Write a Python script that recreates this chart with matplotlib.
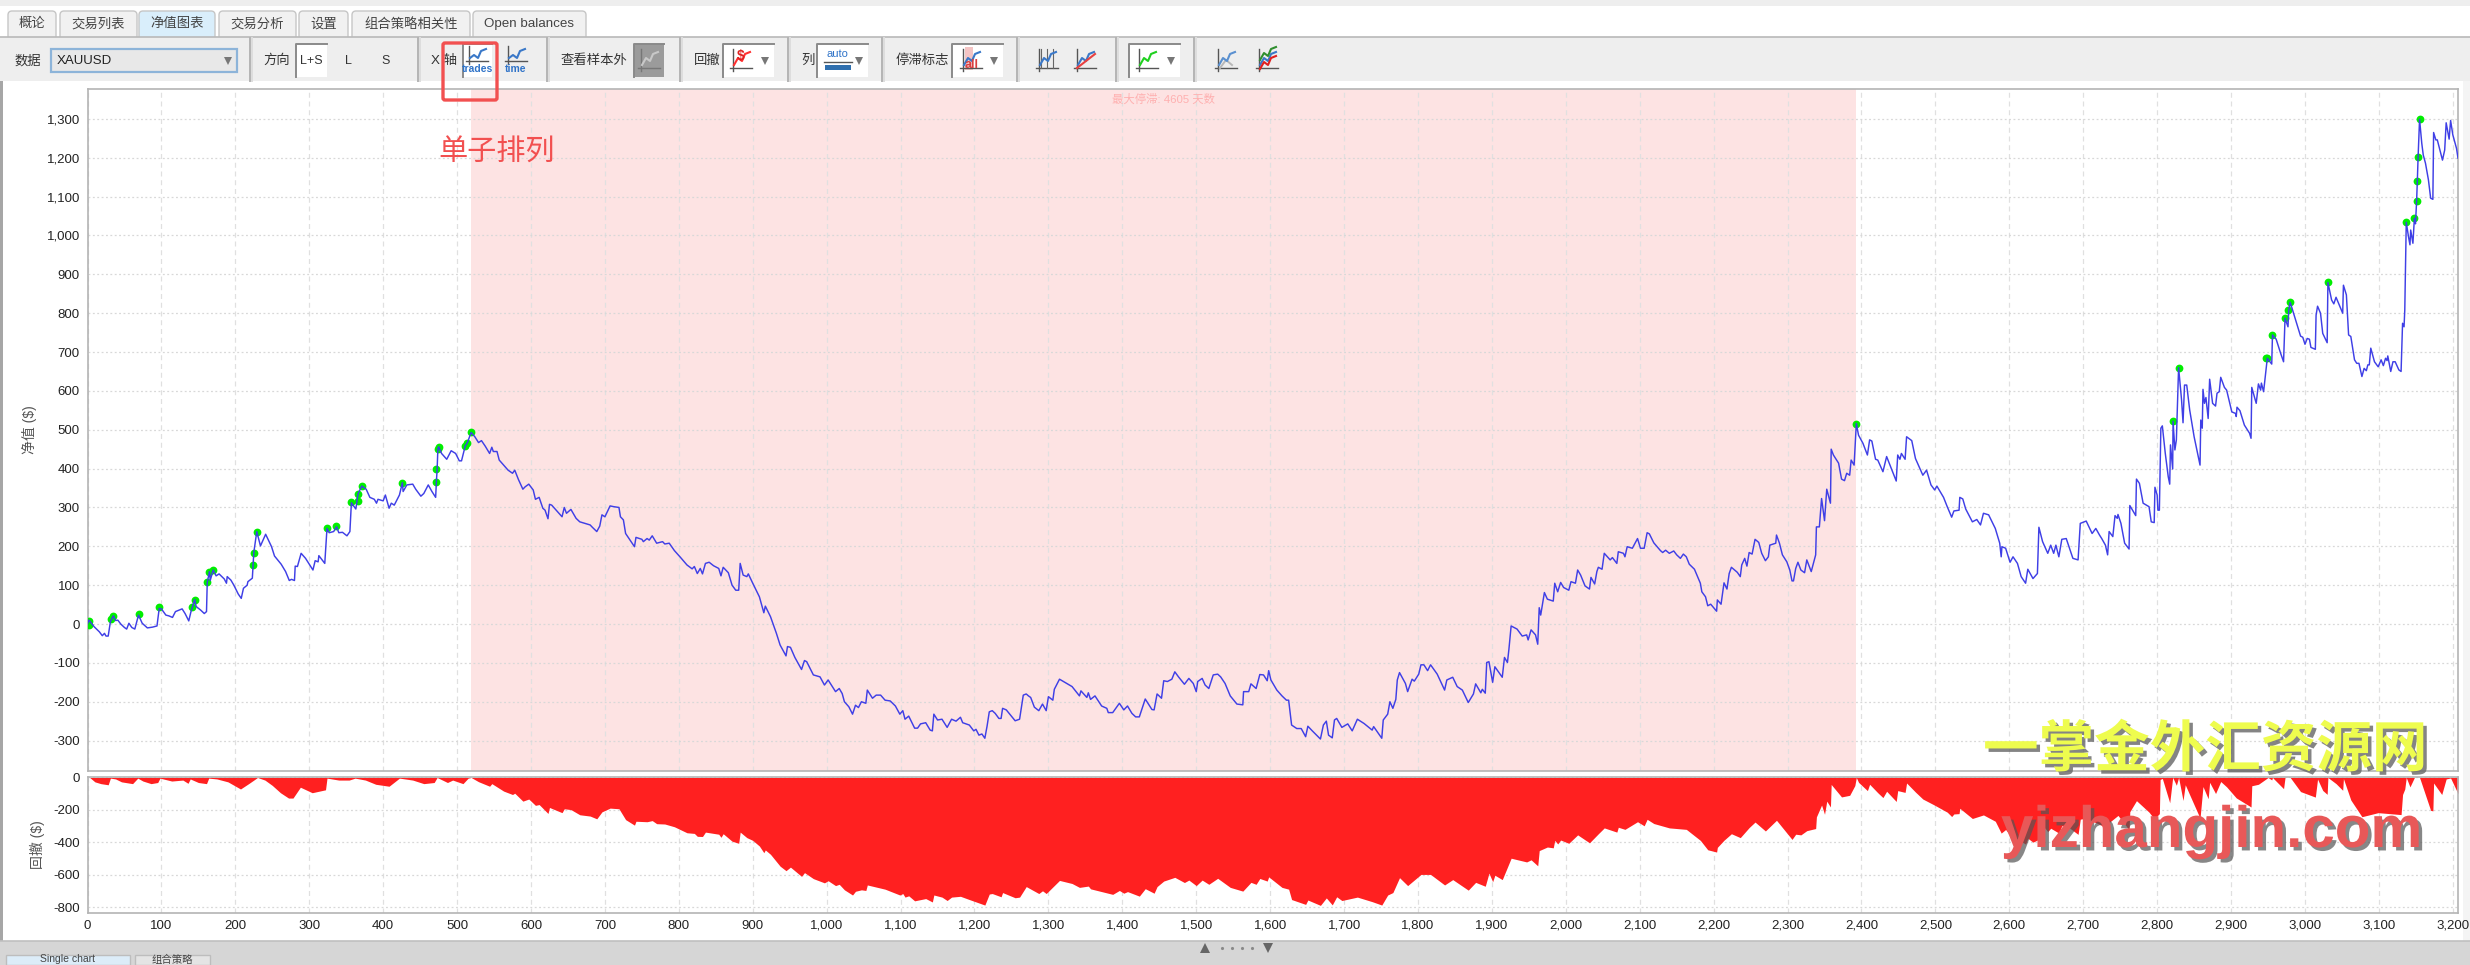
import matplotlib
matplotlib.use("Agg")
import matplotlib.pyplot as plt
import matplotlib.patheffects as pe
from matplotlib.patches import Rectangle, FancyBboxPatch
from matplotlib.ticker import FuncFormatter

plt.rcParams['font.family'] = ['Liberation Sans', 'Noto Sans CJK SC', 'DejaVu Sans']

# ---------- data ----------
eq_points = [
    (0,0),(2,10),(9,-7),(16,-20),(20,-30),(23,-24),(25,-31),(28,-31),(31,6),(35,21),(38,9),(41,10),(45,0),(50,-9),(53,-13),
    (56,2),(60,-9),(64,-13),(69,23),(74,2),(81,-10),(88,-8),(94,-5),(97,40),(100,39),(106,23),(110,21),(115,17),(119,32),
    (128,39),(132,27),(137,8),(140,32),(145,63),(147,45),(153,36),(158,27),(161,32),(162,107),(165,135),(166,112),(170,139),
    (174,124),(178,129),(185,116),(188,105),(189,122),(194,113),(198,100),(204,77),(208,66),(211,92),(216,100),(217,109),
    (223,118),(224,152),(225,184),(229,238),(234,201),(241,231),(249,199),(253,175),(262,154),(268,135),(273,112),(276,115),
    (280,112),(281,149),(284,148),(289,182),(295,169),(305,139),(308,163),(312,160),(313,176),(321,156),(324,246),(327,235),
    (333,238),(337,250),(340,235),(345,236),(351,227),(355,238),(357,312),(363,296),(366,335),(371,355),(377,347),(382,326),
    (388,321),(391,311),(393,321),(400,317),(403,332),(408,298),(411,311),(415,306),(422,332),(426,364),(427,341),(432,358),
    (440,360),(444,347),(451,329),(455,336),(461,358),(466,341),(471,326),(472,366),(473,398),(474,450),(475,456),(479,439),
    (486,424),(492,446),(498,439),(503,420),(506,420),(511,458),(514,467),(519,493),
    (524,482),(529,467),(533,472),(538,458),(544,439),(547,455),(549,444),(554,444),(557,422),(563,409),(569,396),(575,388),
    (578,396),(583,372),(589,347),(592,353),(597,360),(603,345),(606,321),(611,326),(616,298),(619,293),(623,271),(625,308),
    (628,306),(634,293),(642,276),(645,300),(648,285),(654,295),(661,272),(666,263),(673,259),(680,255),(683,249),(689,238),
    (693,252),(696,281),(700,276),(707,304),(712,302),(719,300),(721,276),(725,268),(728,233),(734,216),(740,199),(742,223),
    (750,218),(752,212),(757,220),(760,216),(764,227),(770,208),(778,212),(781,206),(787,208),(794,189),(802,172),(806,163),
    (811,152),(818,142),(821,148),(825,130),(829,143),(832,129),(836,156),(841,159),(847,150),(854,143),(857,124),(860,146),
    (867,132),(872,100),(877,87),(881,87),(883,156),(887,126),(892,122),(894,129),(900,105),(909,70),(915,29),(917,46),(924,19),
    (932,-24),(937,-54),(945,-82),(947,-58),(951,-60),(957,-86),(966,-117),(970,-94),(973,-97),(982,-131),(991,-136),(997,-157),
    (1002,-144),(1012,-174),(1017,-166),(1021,-179),(1024,-200),(1030,-213),(1035,-232),(1039,-209),(1043,-215),(1047,-200),
    (1053,-204),(1055,-170),(1062,-191),(1067,-183),(1073,-183),(1079,-196),
    (1086,-198),(1093,-211),(1099,-232),(1103,-223),(1106,-245),(1111,-237),(1119,-268),(1123,-268),(1127,-257),(1134,-254),
    (1140,-273),(1143,-275),(1145,-232),(1150,-247),(1156,-245),(1163,-266),(1169,-245),(1175,-250),(1181,-240),(1184,-254),
    (1193,-260),(1199,-275),(1202,-271),(1206,-286),(1210,-283),(1214,-294),(1217,-263),(1220,-226),(1224,-223),(1228,-230),
    (1233,-243),(1236,-243),(1238,-217),(1243,-221),(1255,-249),(1261,-245),(1266,-183),(1270,-180),(1273,-185),(1276,-189),
    (1281,-214),(1287,-223),(1292,-206),(1297,-223),(1300,-187),(1306,-196),(1308,-168),(1311,-157),(1315,-142),(1323,-151),
    (1332,-161),(1342,-185),(1344,-172),(1352,-189),(1354,-177),(1357,-194),(1363,-185),(1372,-211),(1379,-217),(1381,-228),
    (1387,-228),(1396,-204),(1402,-221),(1407,-211),(1413,-230),(1418,-239),(1423,-239),(1431,-193),(1440,-220),(1443,-221),
    (1447,-180),(1453,-191),(1456,-146),(1461,-148),(1467,-142),(1471,-123),(1476,-136),(1484,-155),(1490,-140),(1496,-153),
    (1500,-174),(1502,-148),(1508,-140),(1512,-157),(1517,-166),(1523,-131),(1529,-129),(1533,-136),(1539,-153),(1546,-185),
    (1555,-206),(1563,-208),(1564,-174),(1571,-174),(1574,-154),(1581,-166),(1586,-130),(1591,-131),(1596,-146),(1598,-120),
    (1601,-144),(1609,-170),(1616,-185),(1622,-196),(1625,-196),(1629,-260),(1636,-269),
    (1642,-269),(1648,-290),(1651,-263),(1657,-275),(1668,-296),(1672,-260),(1676,-250),(1679,-286),(1684,-293),(1687,-247),
    (1690,-243),(1697,-266),(1705,-257),(1711,-275),(1718,-245),(1727,-256),(1738,-273),(1740,-264),(1751,-294),(1753,-247),
    (1759,-232),(1762,-200),(1766,-217),(1770,-194),(1772,-144),(1775,-125),(1783,-153),(1786,-174),(1792,-142),(1795,-147),
    (1801,-129),(1804,-105),(1808,-105),(1813,-120),(1817,-105),(1826,-129),(1836,-170),(1839,-144),(1847,-137),(1853,-161),
    (1860,-170),(1868,-202),(1875,-180),(1878,-154),(1885,-177),(1887,-168),(1891,-178),(1893,-99),(1896,-97),(1901,-150),
    (1904,-110),(1914,-137),(1917,-86),(1921,-99),(1923,-65),(1926,-5),(1934,-13),(1941,-31),(1947,-28),(1949,-41),(1953,-15),
    (1959,-28),(1962,-52),(1964,42),(1966,23),(1969,57),(1971,81),(1975,64),(1983,59),(1985,105),(1989,83),(1993,107),(1997,94),
    (2004,87),(2007,109),(2013,105),(2016,139),(2020,126),(2026,98),(2032,90),(2034,120),(2039,103),(2042,135),(2044,146),
    (2049,141),(2052,182),(2060,165),(2063,171),(2069,156),(2071,186),(2078,182),(2080,173),(2083,199),(2090,195),(2097,220),
    (2101,195),(2106,195),(2110,235),(2113,232),(2119,209),(2128,189),(2131,184),(2135,190),(2140,182),(2146,188),(2150,178),
    (2155,169),(2159,180),(2163,173),(2167,154),(2174,141),(2182,105),(2184,83),(2189,70),(2192,47),(2196,51),(2204,33),
    (2205,62),(2210,51),(2214,106),(2218,90),(2221,130),(2224,146),(2232,133),(2236,122),(2238,152),(2242,169),(2245,149),
    (2248,184),(2252,180),(2256,218),(2261,210),(2265,182),(2270,163),(2274,173),(2276,203),(2284,208),(2285,229),(2289,208),
    (2293,178),(2299,160),(2303,139),(2306,111),(2308,111),(2311,143),(2314,159),(2318,139),(2323,132),(2326,165),(2332,135),
    (2338,178),(2339,250),(2343,250),(2346,323),(2350,266),(2353,347),(2358,311),(2359,450),(2362,435),(2369,414),(2373,373),
    (2377,369),(2380,388),(2384,383),(2386,422),(2390,409),(2391,443),(2393,516),(2396,486),(2402,465),(2408,435),(2411,474),
    (2414,471),(2419,424),(2422,422),(2429,392),(2434,431),(2439,407),(2447,368),(2449,435),(2452,424),(2454,439),(2459,424),
    (2461,482),(2468,472),(2473,426),(2483,383),(2488,396),(2494,358),(2499,345),(2502,355),(2511,326),(2516,302),(2522,275),
    (2525,291),(2532,293),(2533,326),(2537,322),(2541,296),(2550,263),(2556,269),(2561,255),(2565,285),(2572,281),(2581,246),
    (2587,208),(2589,173),(2590,199),(2595,195),(2601,159),(2605,173),(2611,156),(2616,122),(2622,105),(2625,141),(2632,117),
    (2638,130),(2640,249),(2645,212),(2652,182),(2656,203),(2660,182),(2663,203),(2667,173),(2671,218),(2677,220),(2686,169),
    (2693,165),(2696,259),(2704,265),(2712,233),(2717,246),(2722,229),
    (2725,220),(2730,203),(2733,178),(2735,238),(2740,225),(2743,279),(2746,272),(2747,282),(2751,259),(2756,208),(2762,193),
    (2763,305),(2771,279),(2772,373),(2776,362),(2781,311),(2789,302),(2792,263),(2796,261),(2797,352),(2800,332),(2801,293),
    (2803,293),(2805,504),(2807,510),(2811,439),(2815,379),(2817,360),(2818,461),(2821,399),(2821.5,522),(2824,448),(2826,474),
    (2829,660),(2833,577),(2835,518),(2837,615),(2840,615),(2844,551),(2850,482),(2858,409),(2859,525),(2861,504),(2862,604),
    (2864,568),(2866,583),(2869,529),(2871,630),(2875,568),(2879,561),(2881,594),(2884,598),(2886,635),(2891,609),(2894,602),
    (2901,546),(2906,542),(2907,534),(2908,558),(2912,549),(2918,512),(2925,491),(2927,478),(2928,609),(2934,568),(2937,618),
    (2940,602),(2941,620),(2944,598),(2947,650),(2949,684),(2955,669),(2956,744),(2961,733),(2967,697),(2971,675),(2973,787),
    (2977,765),(2978,808),(2980,828),(2988,778),(2994,741),(2997,738),(3000,720),(3003,735),(3006,733),(3008,712),(3014,707),
    (3015,795),(3017,818),(3021,800),(3024,748),(3030,724),(3031,879),(3036,834),(3039,824),(3042,841),(3051,800),(3052,872),
    (3056,847),(3059,744),(3062,740),(3067,680),(3070,671),(3073,671),(3077,637),(3080,658),(3083,652),(3085,667),(3087,667),
    (3089,710),(3094,675),(3099,662),(3103,680),(3106,665),(3109,684),(3111,678),(3112,690),(3116,650),(3119,675),(3122,675),
    (3127,654),(3130,650),(3132,774),(3134,765),(3135,808),(3137,1034),(3140,997),(3142,976),(3143,1014),(3146,980),(3148,1044),
    (3149.5,1030),(3151,1089),(3152,1141),(3153,1201),(3155,1299),(3158,1237),(3160,1207),(3163,1186),(3167,1143),(3170,1096),
    (3173,1093),(3174,1265),(3177,1246),(3179,1246),(3186,1194),(3189,1220),(3191,1290),(3195,1248),(3197,1296),(3200,1259),
    (3205,1224),(3207,1199),
]
eq_x = [p[0] for p in eq_points]
eq_y = [p[1] for p in eq_points]

peak_x = [2,2,32,35,69,97,141,146,161,165,170,224,225,229,324,336,356,366,366,371,426,471,472,474,475,511,514,519,
          2393,2821.5,2829,2947,2949,2956,2973,2977,2980,3031,3137,3148,3151,3152,3153,3155]
peak_y = [9,-2,14,21,27,43,45,63,107,135,139,152,184,238,246,252,313,317,335,355,364,366,398,450,456,458,467,493,
          516,522,660,684,684,744,787,808,828,879,1034,1044,1089,1141,1201,1299]

dd_points = [
    (0,0),(3,0),(10,-27),(18,-38),(28,-45),(31,-4),(38,-9),(46,-27),(61,-38),(68,-4),(75,-22),(86,-38),(95,-31),(98,-4),
    (114,-22),(129,-16),(136,-36),(139,-9),(150,-31),(161,-38),(164,-4),(175,-9),(190,-27),(207,-71),(218,-38),(225,-16),
    (230,0),(240,-16),(250,-49),(261,-94),(272,-127),(278,-127),(288,-60),(304,-94),(322,-76),(324,-4),(340,-16),(354,-16),
    (362,-4),(376,-16),(390,-42),(408,-54),(422,-4),(440,-16),(455,-38),(469,-31),(473,0),(487,-31),(494,-16),(508,-38),
    (515,-4),(519,0),
    (529,-26),(544,-54),(547,-38),(563,-84),(575,-105),(578,-97),(589,-146),(597,-133),(606,-172),(611,-167),(623,-222),
    (625,-185),(642,-217),(645,-193),(654,-198),(666,-230),(680,-238),(689,-255),(696,-212),(707,-189),(719,-193),(728,-260),
    (740,-294),(742,-270),(757,-273),(764,-266),(770,-285),(781,-287),(794,-304),(811,-341),(821,-345),(825,-363),(832,-364),
    (836,-337),(854,-350),(857,-369),(860,-347),(872,-393),(881,-406),(883,-337),(892,-371),(900,-388),(909,-423),(915,-464),
    (917,-447),(924,-474),(937,-547),(945,-575),(951,-553),(966,-610),(970,-587),(982,-624),(997,-650),(1002,-637),
    (1012,-667),(1017,-659),(1024,-693),(1035,-725),(1039,-702),(1047,-693),(1053,-697),(1055,-663),(1067,-676),(1079,-689),
    (1099,-725),(1103,-716),(1106,-738),(1111,-730),(1119,-761),(1134,-747),(1143,-768),(1145,-725),(1156,-738),(1163,-759),
    (1169,-738),(1181,-733),(1193,-753),(1214,-787),(1220,-719),(1224,-716),(1236,-736),(1238,-710),(1255,-742),(1261,-738),
    (1270,-673),(1287,-716),(1292,-699),(1297,-716),(1315,-635),(1332,-654),(1342,-678),(1354,-670),(1357,-687),(1372,-704),
    (1387,-721),(1396,-697),(1402,-714),(1407,-704),(1423,-732),(1431,-686),(1443,-714),(1447,-673),(1456,-639),(1471,-616),
    (1484,-648),(1490,-633),(1500,-667),(1508,-633),(1517,-659),(1529,-622),(1546,-678),(1563,-701),(1574,-647),(1581,-659),
    (1586,-623),(1596,-639),(1598,-613),(1616,-678),(1625,-689),(1629,-753),(1648,-783),(1651,-756),(1668,-789),(1676,-743),
    (1684,-786),(1690,-736),(1697,-759),(1718,-738),(1738,-766),(1751,-787),(1759,-725),(1766,-710),(1775,-618),(1786,-667),
    (1804,-598),(1817,-598),(1836,-663),(1847,-630),(1868,-695),(1878,-647),(1891,-671),(1896,-590),(1901,-643),(1904,-603),
    (1914,-630),(1926,-498),(1947,-521),(1953,-508),(1962,-545),(1964,-451),(1975,-429),(1983,-434),(1985,-388),(1989,-410),
    (1993,-386),(2004,-406),(2016,-354),(2032,-403),(2044,-347),(2052,-311),(2069,-337),(2071,-307),(2080,-320),(2097,-273),
    (2106,-298),(2110,-258),(2119,-284),(2140,-311),(2163,-320),(2182,-388),(2192,-446),(2204,-460),(2205,-431),(2214,-387),
    (2224,-347),(2236,-371),(2248,-309),(2256,-275),(2270,-330),(2285,-264),(2306,-382),(2311,-350),(2318,-354),(2326,-328),
    (2338,-315),(2339,-243),(2346,-170),(2350,-227),(2353,-146),(2358,-182),(2359,-43),(2373,-120),(2384,-110),(2391,-50),
    (2393,0),(2396,-30),(2408,-81),(2411,-42),(2422,-94),(2429,-124),(2434,-85),(2447,-148),(2449,-81),(2459,-92),(2461,-34),
    (2473,-90),(2483,-133),(2499,-171),(2516,-214),(2522,-241),(2525,-225),(2532,-223),(2533,-190),(2550,-253),(2565,-231),
    (2581,-270),(2589,-343),(2595,-321),(2601,-357),(2616,-394),(2622,-411),(2625,-375),(2632,-399),(2638,-386),(2640,-267),
    (2652,-334),(2656,-313),(2667,-343),(2671,-298),(2677,-296),(2693,-351),(2696,-257),(2704,-251),(2725,-296),(2733,-338),
    (2735,-278),(2747,-234),(2762,-323),(2763,-211),(2772,-143),(2789,-214),(2796,-255),(2803,-223),
    (2804,-12),(2807,-6),(2817,-156),(2821,0),(2826,-48),(2829,0),(2835,-142),(2838,-45),(2858,-251),(2862,-56),
    (2869,-131),(2871,-30),(2879,-99),(2886,-25),(2894,-58),(2907,-126),(2927,-182),(2928,-51),(2937,-42),(2947,-10),(2950,0),
    (2955,-15),(2956,0),(2971,-69),(2973,0),(2980,0),(2994,-87),(3014,-121),(3017,-10),(3024,-80),(3030,-104),(3031,0),
    (3042,-38),(3051,-79),(3052,-7),(3062,-139),(3077,-242),(3099,-217),(3130,-229),(3132,-105),(3135,-71),(3137,0),
    (3142,-58),(3148,0),(3155,0),(3170,-203),(3173,-206),(3174,-34),(3185,-105),(3191,-9),(3197,-3),(3207,-100),
]
dd_x = [p[0] for p in dd_points]
dd_y = [p[1] for p in dd_points]

stagnation = (519, 2393)
eq_ticks = [-300,-200,-100,0,100,200,300,400,500,600,700,800,900,1000,1100,1200,1300]
dd_ticks = [0,-200,-400,-600,-800]
x_ticks = list(range(0, 3201, 100))

tab_labels = ['概论','交易列表','净值图表','交易分析','设置','组合策略相关性','Open balances']
stagnation_label = '最大停滞: 4605 天数'

# ---------- layout ----------
W, H = 2470, 965
fig = plt.figure(figsize=(W/100, H/100), dpi=100, facecolor='white')
def box(l, t, r, b):
    return [l/W, 1-b/H, (r-l)/W, (b-t)/H]

bg = fig.add_axes([0,0,1,1], zorder=0); bg.set_xlim(0,W); bg.set_ylim(H,0); bg.axis('off')
fg = fig.add_axes([0,0,1,1], zorder=5); fg.set_xlim(0,W); fg.set_ylim(H,0); fg.axis('off'); fg.patch.set_alpha(0)

LBL = '#333333'
def rect(ax, l, t, r, b, fc='none', ec='none', lw=0, z=1):
    ax.add_patch(Rectangle((l,t), r-l, b-t, fc=fc, ec=ec, lw=lw, zorder=z))

# window chrome
rect(bg, 0, 0, W, 6, fc='#eeeeee')
rect(bg, 0, 941, W, H, fc='#d6d6d6')
bg.plot([0,W],[941,941], color='#c0c0c0', lw=1.2, zorder=2)
rect(bg, 0, 81, 3, 941, fc='#a6a6a6')
rect(bg, 2463, 81, W, 941, fc='#f4f4f4')

# tabs
tab_bounds = [(8,56),(60,137),(139,215),(219,296),(299,348),(352,470),(473,586)]
for i,(lab,(l,r)) in enumerate(zip(tab_labels,tab_bounds)):
    bg.add_patch(FancyBboxPatch((l,11), r-l, 30, boxstyle='round,pad=0,rounding_size=4',
                 fc='#d9eefb' if i==2 else '#f1f1f1', ec='#c6c6c6', lw=1, zorder=1.5))
    bg.text((l+r)/2, 24, lab, ha='center', va='center', fontsize=9.6, color='#444444', zorder=3)
rect(bg, 0, 37, W, 81, fc='#eeeeee', z=1.8)
bg.plot([0,W],[37,37], color='#b9b9b9', lw=1.2, zorder=2)

# toolbar separators
for sx in [250,418,547,680,788,882,1017,1116,1194]:
    bg.plot([sx,sx],[38,81], color='#b4b4b4', lw=1.4, zorder=3)
    bg.plot([sx+2,sx+2],[38,81], color='#dddddd', lw=1.4, zorder=3)

def label(x, s, y=61, **kw):
    kw.setdefault('fontsize', 9.6); kw.setdefault('color', LBL)
    bg.text(x, y, s, ha='center', va='center', zorder=6, **kw)

def sunken(l, r, t=44, b=77, fc='white'):
    rect(bg, l, t, r, b, fc=fc, z=3)
    bg.plot([l,l,r],[b,t,t], color='#8a8a8a', lw=1.4, zorder=4)

def arrow(x, y=61, c='#777777', s=6):
    bg.plot([x],[y], marker='v', ms=s, color=c, mew=0, zorder=6, ls='none')

def mini(cx, cy=60, line='#3a78c8', axes='#555555', w=22, h=22, draw_axes=True):
    l, r, t, b = cx-w/2, cx+w/2, cy-h/2, cy+h/2
    if draw_axes:
        bg.plot([l+3,l+3],[t,b], color=axes, lw=1, zorder=5)
        bg.plot([l,r],[b-3,b-3], color=axes, lw=1, zorder=5)
    xs = [l+4,l+8,l+12,l+15,r-2]
    ys = [b-6,t+9,t+12,t+5,t+3]
    bg.plot(xs, ys, color=line, lw=1.5, zorder=5.5)

label(28, '数据')
rect(bg, 51, 49, 237, 72, fc='#e8e8e8', ec='#8db4d9', lw=1.6, z=3)
bg.text(57, 61, 'XAUUSD', ha='left', va='center', fontsize=9.5, color='#222222', zorder=6)
arrow(228)
label(277, '方向')
sunken(296, 327)
label(311, 'L+S', fontsize=9)
label(348, 'L', fontsize=9)
label(386, 'S', fontsize=9)
label(444, 'X 轴')
sunken(463, 492)
mini(477, 55, h=18)
bg.text(477, 69, 'trades', ha='center', va='center', fontsize=7.5, color='#2f73c8', fontweight='bold', zorder=6)
mini(516, 55, h=18)
bg.text(516, 69, 'time', ha='center', va='center', fontsize=7.5, color='#2f73c8', fontweight='bold', zorder=6)
label(594, '查看样本外')
sunken(634, 664, fc='#9b9b9b')
mini(649, 60, line='#c8c8c8', axes='#777777')
label(707, '回撤')
sunken(723, 774)
mini(741, 60, line='#ff3030')
bg.text(741, 56, '$', ha='center', va='center', fontsize=10, color='#e02020', fontweight='bold', zorder=7)
arrow(765)
label(808, '列')
sunken(817, 868)
bg.text(837, 54, 'auto', ha='center', va='center', fontsize=8, color='#2f73c8', zorder=6)
bg.plot([824,852],[62,62], color='#555555', lw=1, zorder=5)
rect(bg, 825, 65, 851, 70, fc='#2f6fae', z=5)
arrow(859)
label(922, '停滞标志')
sunken(952, 1003)
rect(bg, 965, 47, 973, 70, fc='#f4c4c4', z=4)
mini(971, 60)
bg.text(972, 65, 'all', ha='center', va='center', fontsize=9, color='#d84040', fontweight='bold', zorder=7)
arrow(994)
mini(1047, 60)
for vx in (1041, 1047, 1053):
    bg.plot([vx,vx],[49,68], color='#666666', lw=0.8, zorder=5)
mini(1085, 60)
bg.plot([1077,1095],[68,54], color='#e84040', lw=1.5, zorder=5.6)
sunken(1129, 1180)
mini(1147, 60, line='#20d020')
arrow(1171)
mini(1226, 60, line='#5a90d0')
bg.plot([1220,1226,1232],[68,60,65], color='#b8b8b8', lw=1.4, zorder=5.4)
mini(1267, 60, line='#3a78c8')
mini(1267, 64, line='#e02020', draw_axes=False)
mini(1267, 55, line='#2f8f2f', draw_axes=False)

# bottom strip
rect(bg, 6, 955, 130, H, fc='#dcecf8', ec='#bdbdbd', lw=1, z=2)
rect(bg, 135, 955, 210, H, fc='#e4e4e4', ec='#bdbdbd', lw=1, z=2)
bg.text(68, 959.5, 'Single chart', ha='center', va='center', fontsize=7.5, color='#444444', zorder=3)
bg.text(172, 959.5, '组合策略', ha='center', va='center', fontsize=7.5, color='#444444', zorder=3)
bg.plot([1205],[948], marker='^', ms=7, color='#666666', mew=0, ls='none', zorder=3)
bg.plot([1268],[948], marker='v', ms=7, color='#666666', mew=0, ls='none', zorder=3)
bg.plot([1222,1232,1242,1252],[948]*4, marker='.', ms=2.5, color='#8a8a8a', ls='none', zorder=3)

# ---------- charts ----------
ax = fig.add_axes(box(87.5, 89, 2458, 770.5), zorder=1, facecolor='white')
ax2 = fig.add_axes(box(87.5, 777, 2458, 913), zorder=1, facecolor='white')
XMAX = 3207
for a in (ax, ax2):
    a.set_xlim(0, XMAX)
    a.xaxis.grid(True, color='#e0e0e0', lw=0.9, ls=(0,(4,3)), zorder=1)
    a.yaxis.grid(True, color='#d8d8d8', lw=0.9, ls=(0,(1.5,2)), zorder=1)
    a.set_axisbelow(True)
    a.set_xticks(x_ticks)
    for s in a.spines.values():
        s.set_color('#b4b4b4'); s.set_linewidth(1.2)
    a.tick_params(length=0, labelsize=9.5, labelcolor='#222222')
    a.tick_params(axis='y', pad=5.5)
    a.tick_params(axis='x', pad=5)

fmt = FuncFormatter(lambda v, _: f'{int(v):,}')
ax.set_ylim(-377, 1377)
ax.set_yticks(eq_ticks); ax.yaxis.set_major_formatter(fmt)
ax.tick_params(axis='x', labelbottom=False)
ax.axvspan(*stagnation, fc='#fde3e3', ec='none', zorder=0.5)
ax.plot(eq_x, eq_y, color='#3f3fe6', lw=1.05, zorder=3, solid_joinstyle='round')
ax.plot(peak_x, peak_y, ls='none', marker='o', ms=5.6, color='#00ee00', mew=0, zorder=2.8)
ax.text(sum(stagnation)/2, 1350, stagnation_label, ha='center', va='center', fontsize=8.2, color='#ffb0b0', zorder=4)
ax.set_ylabel('净值 ($)', fontsize=10, color='#555555')
ax.yaxis.set_label_coords(-0.0213, 0.5)

ax2.set_ylim(-836, 3)
ax2.set_yticks(dd_ticks); ax2.yaxis.set_major_formatter(fmt)
ax2.xaxis.set_major_formatter(fmt)
ax2.fill_between(dd_x, dd_y, 0, color='#ff2020', lw=0, zorder=2)
ax2.set_ylabel('回撤 ($)', fontsize=10, color='#555555')
ax2.yaxis.set_label_coords(-0.0179, 0.5)

# ---------- overlay annotations ----------
fg.add_patch(FancyBboxPatch((443,43), 54, 57, boxstyle='round,pad=0,rounding_size=2', fc='none', ec='#f25050', lw=2.4, zorder=6))
fg.text(497, 153, '单子排列', ha='center', va='center', fontsize=21, color='#f25050', zorder=6)
t1 = fg.text(2205, 752, '一掌金外汇资源网', ha='center', va='center', fontsize=40, fontweight='bold', color='#eefc4e', zorder=7)
t1.set_path_effects([pe.withSimplePatchShadow(offset=(2.5,-2.5), shadow_rgbFace='#666666', alpha=0.8)])
t2 = fg.text(2212, 832, 'yizhangjin.com', ha='center', va='center', fontsize=42, fontweight='bold', color='#e85858', zorder=7)
t2.set_path_effects([pe.withSimplePatchShadow(offset=(2.5,-2.5), shadow_rgbFace='#555555', alpha=0.7)])

fig.savefig('out.png', dpi=100, facecolor='white')
